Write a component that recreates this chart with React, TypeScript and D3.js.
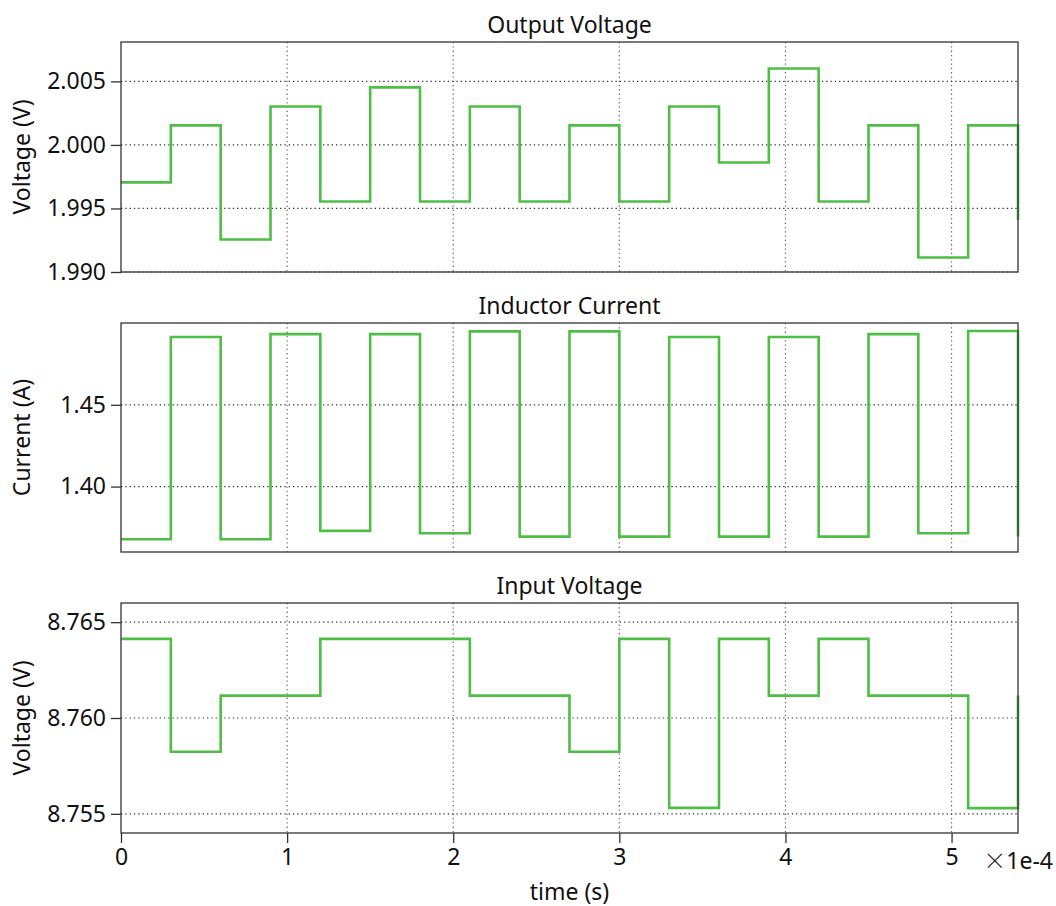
import * as d3 from 'd3';
import React, { useRef, useEffect } from 'react';

// time in units of 1e-4 s, one switching step every 0.3
const times = [0, 0.3, 0.6, 0.9, 1.2, 1.5, 1.8, 2.1, 2.4, 2.7, 3.0, 3.3, 3.6, 3.9, 4.2, 4.5, 4.8, 5.1, 5.4];

const outputVoltage = [1.99705, 2.00154, 1.99256, 2.00303, 1.99555, 2.00453, 1.99555, 2.00303, 1.99555, 2.00154,
    1.99555, 2.00303, 1.99862, 2.00602, 1.99555, 2.00154, 1.99114, 2.00154, 1.99410];

const inductorCurrent = [1.3678, 1.4914, 1.3678, 1.4932, 1.3729, 1.4932, 1.3715, 1.4949, 1.3694, 1.4949,
    1.3694, 1.4914, 1.3694, 1.4914, 1.3694, 1.4932, 1.3715, 1.4951, 1.3694];

const inputVoltage = [8.76413, 8.75824, 8.76117, 8.76117, 8.76413, 8.76413, 8.76413, 8.76117, 8.76117, 8.75824,
    8.76413, 8.75531, 8.76413, 8.76117, 8.76413, 8.76117, 8.76117, 8.75530, 8.76117];

const xTicks = [0, 1, 2, 3, 4, 5];

const panels = [
    { title: 'Output Voltage', ylabel: 'Voltage (V)', values: outputVoltage, domain: [1.990, 2.0081], ticks: [1.990, 1.995, 2.000, 2.005], fmt: '.3f', top: 42, bottom: 272 },
    { title: 'Inductor Current', ylabel: 'Current (A)', values: inductorCurrent, domain: [1.36, 1.50], ticks: [1.40, 1.45], fmt: '.2f', top: 323, bottom: 552 },
    { title: 'Input Voltage', ylabel: 'Voltage (V)', values: inputVoltage, domain: [8.754, 8.766], ticks: [8.755, 8.760, 8.765], fmt: '.3f', top: 603, bottom: 833 },
];

const width = 1056;
const height = 906;
const left = 121;
const right = 1018;
const font = '"Noto Sans", sans-serif';
const fontSize = '23px';
const lineColor = '#4fbe45';

function App() {
    const ref = useRef(null);

    useEffect(() => {
        const svg = d3.select(ref.current);
        svg.selectAll('*').remove();

        const x = d3.scaleLinear().domain([0, 5.4]).range([left, right]);

        panels.forEach((p, i) => {
            const y = d3.scaleLinear().domain(p.domain).range([p.bottom, p.top]);
            const g = svg.append('g');

            // grid
            g.selectAll('.vgrid')
                .data(xTicks.filter(t => t > 0))
                .enter()
                .append('line')
                .attr('x1', d => x(d)).attr('x2', d => x(d))
                .attr('y1', p.top).attr('y2', p.bottom)
                .attr('stroke', '#666')
                .attr('stroke-width', 1.2)
                .attr('stroke-dasharray', '1.3,3');
            g.selectAll('.hgrid')
                .data(p.ticks)
                .enter()
                .append('line')
                .attr('x1', left).attr('x2', right)
                .attr('y1', d => y(d)).attr('y2', d => y(d))
                .attr('stroke', '#333')
                .attr('stroke-width', 1.2)
                .attr('stroke-dasharray', '1.3,3');

            // step line
            const line = d3.line()
                .x((d, j) => x(times[j]))
                .y(d => y(d))
                .curve(d3.curveStepAfter);
            g.append('path')
                .datum(p.values)
                .attr('d', line)
                .attr('fill', 'none')
                .attr('stroke', lineColor)
                .attr('stroke-width', 2.6);

            // frame
            g.append('rect')
                .attr('x', left).attr('y', p.top)
                .attr('width', right - left).attr('height', p.bottom - p.top)
                .attr('fill', 'none')
                .attr('stroke', '#333')
                .attr('stroke-width', 1.3);

            // y axis
            const yAxis = g.append('g')
                .attr('transform', 'translate(' + left + ',0)')
                .call(d3.axisLeft(y).tickValues(p.ticks).tickFormat(d3.format(p.fmt)).tickSize(10).tickPadding(5));
            yAxis.select('.domain').remove();
            yAxis.selectAll('line').attr('stroke', '#333').attr('stroke-width', 1.3);
            yAxis.selectAll('text')
                .style('font-family', font)
                .style('font-size', fontSize)
                .attr('fill', '#111');

            g.append('text')
                .attr('x', (left + right) / 2)
                .attr('y', p.top - 9)
                .attr('text-anchor', 'middle')
                .style('font-family', font)
                .style('font-size', fontSize)
                .attr('fill', '#111')
                .text(p.title);

            g.append('text')
                .attr('transform', 'translate(30,' + (p.top + p.bottom) / 2 + ') rotate(-90)')
                .attr('text-anchor', 'middle')
                .style('font-family', font)
                .style('font-size', fontSize)
                .attr('fill', '#111')
                .text(p.ylabel);

            if (i === panels.length - 1) {
                const xAxis = g.append('g')
                    .attr('transform', 'translate(0,' + p.bottom + ')')
                    .call(d3.axisBottom(x).tickValues(xTicks).tickFormat(d3.format('d')).tickSize(10).tickPadding(6));
                xAxis.select('.domain').remove();
                xAxis.selectAll('line').attr('stroke', '#333').attr('stroke-width', 1.3);
                xAxis.selectAll('text')
                    .style('font-family', font)
                    .style('font-size', fontSize)
                    .attr('fill', '#111');

                const exp = g.append('text')
                    .attr('x', 1053)
                    .attr('y', p.bottom + 36)
                    .attr('text-anchor', 'end')
                    .style('font-family', font)
                    .style('font-size', fontSize)
                    .attr('fill', '#111');
                exp.append('tspan')
                    .style('font-family', '"Noto Sans CJK JP", sans-serif')
                    .style('font-weight', 300)
                    .text('×');
                exp.append('tspan').text('1e-4');

                g.append('text')
                    .attr('x', (left + right) / 2)
                    .attr('y', p.bottom + 67)
                    .attr('text-anchor', 'middle')
                    .style('font-family', font)
                    .style('font-size', fontSize)
                    .attr('fill', '#111')
                    .text('time (s)');
            }
        });
    }, []);

    return (
        <svg ref={ref} width={width} height={height}
            style={{ position: 'absolute', left: 0, top: 0, background: '#fff' }}>
        </svg>
    );
}

export default App;
